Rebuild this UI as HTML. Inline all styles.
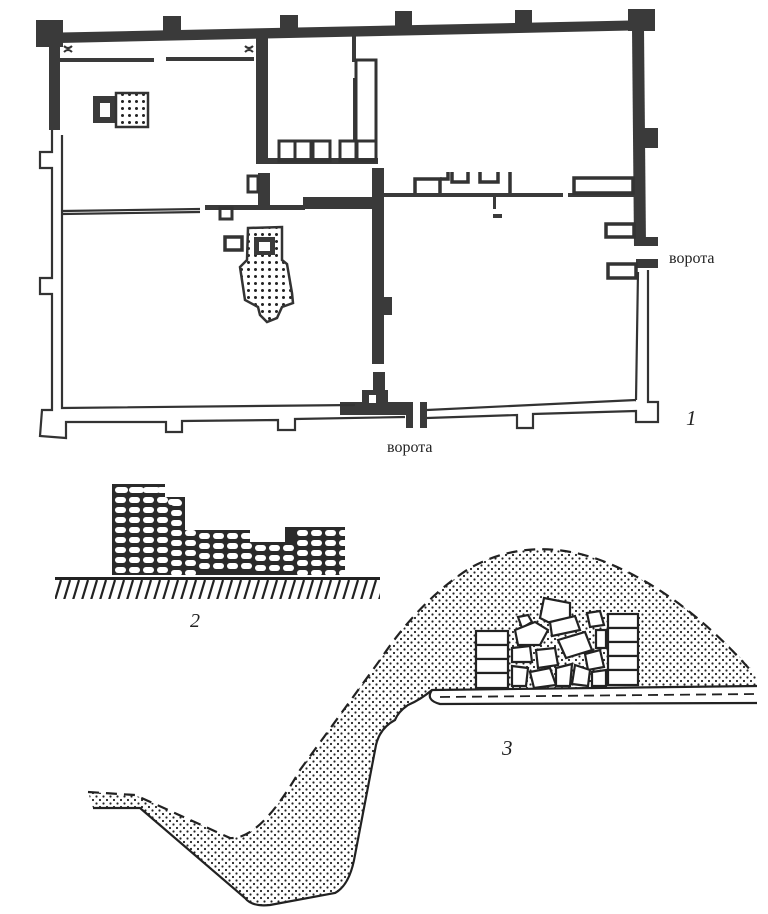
<!DOCTYPE html>
<html><head><meta charset="utf-8"><style>
html,body{margin:0;padding:0;background:#fff;}
svg{display:block;}
text{font-family:"Liberation Serif",serif;fill:#222;}
</style></head><body>
<svg width="768" height="914" viewBox="0 0 768 914" xmlns="http://www.w3.org/2000/svg">
<defs>
<pattern id="dots" width="7" height="7" patternUnits="userSpaceOnUse">
<circle cx="2" cy="2" r="1.1" fill="#222"/><circle cx="5.5" cy="5.5" r="1.1" fill="#222"/>
</pattern>
<pattern id="bigdots" width="7" height="7" patternUnits="userSpaceOnUse">
<circle cx="3.5" cy="3.5" r="1.5" fill="#222"/>
</pattern>
<pattern id="hatch" width="9" height="20" patternUnits="userSpaceOnUse">
<line x1="7" y1="0" x2="1" y2="20" stroke="#222" stroke-width="2.2"/>
</pattern>
</defs>

<!-- ===== PLAN 1 ===== -->
<g fill="#3a3a3a">
<!-- top wall -->
<polygon points="36,33 655,20 655,30 60,43"/>
<rect x="36" y="20" width="27" height="27"/>
<rect x="163" y="16" width="18" height="17"/>
<rect x="280" y="15" width="18" height="16"/>
<rect x="395" y="11" width="17" height="16"/>
<rect x="515" y="10" width="17" height="15"/>
<rect x="628" y="9" width="27" height="22"/>
<!-- left thick wall -->
<rect x="49" y="40" width="11" height="90"/>
<!-- inner dashed line -->
<rect x="60" y="58" width="94" height="4"/>
<rect x="166" y="57" width="88" height="4"/>
<!-- upper room walls -->
<rect x="256" y="38" width="12" height="126"/>
<rect x="256" y="158" width="122" height="6"/>
<rect x="352" y="32" width="4" height="30"/>
<rect x="353" y="78" width="3" height="64"/>
<!-- mid walls -->
<rect x="258" y="173" width="12" height="35"/>
<rect x="205" y="205" width="100" height="5"/>
<rect x="303" y="197" width="80" height="12"/>
<rect x="372" y="168" width="12" height="196"/>
<rect x="383" y="297" width="9" height="18"/>
<rect x="383" y="193" width="180" height="4"/>
<rect x="568" y="193" width="66" height="4"/>
<!-- right thick wall -->
<polygon points="632,28 644,28 646,246 634,246"/>
<rect x="644" y="128" width="14" height="20"/>
<rect x="634" y="237" width="24" height="9"/>
<rect x="636" y="259" width="22" height="9"/>
<!-- central bottom block -->
<rect x="373" y="372" width="12" height="30"/>
<rect x="362" y="390" width="26" height="16"/>
<rect x="340" y="402" width="73" height="13"/>
<rect x="406" y="402" width="7" height="26"/>
<rect x="420" y="402" width="7" height="26"/>
<!-- furnace 1 -->
<rect x="93" y="96" width="24" height="27"/>
<!-- small stub near z -->
<rect x="493" y="197" width="3" height="12"/>
<rect x="493" y="214" width="9" height="4"/>
</g>
<!-- white holes -->
<rect x="100" y="103" width="10" height="14" fill="#fff"/>
<rect x="369" y="395" width="7" height="8" fill="#fff"/>

<g fill="none" stroke="#333" stroke-width="2.2">
<!-- left thin wall outline -->
<polyline points="52,130 52,152 40,152 40,168 52,168 52,278 40,278 40,294 52,294 52,410 42,410 40,436 66,438 66,422 166,422 166,432 182,432 182,421 278,420 278,430 295,430 295,419 405,417"/>
<polyline points="62,135 62,408 355,405"/>
<line x1="62" y1="211" x2="200" y2="209"/>
<line x1="62" y1="214" x2="200" y2="212"/>
<!-- bottom right thin wall -->
<polyline points="427,410 636,400"/>
<polyline points="427,418 517,415 517,428 533,428 533,414 636,411 636,422 658,422 658,402 648,402 648,270"/>
<polyline points="636,400 638,272"/>
<!-- right boxes -->
<rect x="606" y="224" width="28" height="13" stroke-width="3.5"/>
<rect x="608" y="264" width="28" height="14" stroke-width="3.5"/>
<!-- upper room -->
<rect x="356" y="60" width="20" height="100" stroke-width="3"/>
<rect x="279" y="141" width="16" height="20" stroke-width="3"/>
<rect x="295" y="141" width="16" height="20" stroke-width="3"/>
<rect x="313" y="141" width="17" height="20" stroke-width="3"/>
<rect x="340" y="141" width="17" height="20" stroke-width="3"/>
<rect x="357" y="141" width="19" height="20" stroke-width="3"/>
<!-- mid small boxes -->
<rect x="248" y="176" width="10" height="16" stroke-width="3"/>
<rect x="220" y="208" width="12" height="11" stroke-width="3"/>
<!-- right mid rooms -->
<polyline points="415,193 415,179 440,179 440,193" stroke-width="3.5"/>
<polyline points="440,179 448,179 448,172" stroke-width="3.5"/>
<polyline points="452,172 452,182 468,182 468,172 M460,182 460,193" stroke-width="3.5"/>
<polyline points="480,172 480,182 498,182 498,172 M489,182 489,193" stroke-width="3.5"/>
<polyline points="510,172 510,193 M510,179 550,179 550,193" stroke-width="3.5"/>
<rect x="574" y="178" width="59" height="15" stroke-width="3.5"/>
<!-- corner decos -->
<path d="M64,46 q4,4 8,0 M64,52 q4,-4 8,0 M245,46 q4,4 8,0 M245,52 q4,-4 8,0" stroke-width="2"/>
</g>
<!-- dotted square -->
<rect x="116" y="93" width="32" height="34" fill="url(#bigdots)" stroke="#333" stroke-width="2.5"/>
<!-- dotted shape 2 -->
<rect x="225" y="237" width="17" height="13" fill="#fff" stroke="#333" stroke-width="3.5"/>
<polygon points="248,228 282,227 282,260 287,264 292,293 293,303 282,307 277,318 267,322 260,315 258,307 245,300 240,267 247,260" fill="url(#bigdots)" stroke="#333" stroke-width="2.5"/>
<rect x="254" y="237" width="21" height="18" fill="#3a3a3a"/>
<rect x="259" y="242" width="11" height="9" fill="#fff"/>

<text x="669" y="263" font-size="16">ворота</text>
<text x="387" y="452" font-size="16">ворота</text>
<text x="686" y="425" font-size="21" font-style="italic">1</text>

<!-- ===== SECTION 2 ===== -->
<polygon points="112,575 112,484 165,484 165,497 185,497 185,530 250,530 250,542 285,542 285,527 345,527 345,575" fill="#2a2a2a"/>
<g fill="#fff">
<!-- stone pattern rows -->
<rect x="116" y="487" width="12" height="6" rx="3"/><rect x="132" y="487" width="12" height="6" rx="3"/><rect x="148" y="487" width="12" height="6" rx="3"/>
<rect x="168" y="499" width="13" height="6" rx="3"/>
</g>
<g fill="#fff">
<script type="text/plain"></script>
</g>
<g id="stones2"></g>
<rect x="55" y="577" width="325" height="3" fill="#222"/>
<rect x="55" y="580" width="325" height="19" fill="url(#hatch)"/>
<text x="190" y="627" font-size="20" font-style="italic">2</text>

<!-- ===== SECTION 3 ===== -->
<path d="M88,792 L135,795 L230,838 Q260,840 300,770 L380,660 Q420,600 470,568 Q530,535 600,560 Q680,590 757,675 L757,686 L432,690 Q420,700 408,705 Q398,712 395,720 Q380,728 376,745 L355,855 Q350,885 335,893 L270,905 Q252,907 245,898 L140,808 L93,808 Z" fill="url(#dots)"/>
<path d="M88,792 L135,795 L230,838 Q260,840 300,770 L380,660 Q420,600 470,568 Q530,535 600,560 Q680,590 752,672" fill="none" stroke="#222" stroke-width="2.2" stroke-dasharray="11,7"/>
<path d="M93,808 L140,808 L245,898 Q252,907 270,905 L335,893 Q350,885 355,855 L376,745 Q380,728 395,720 Q398,712 408,705 Q420,700 432,690 L757,686" fill="none" stroke="#222" stroke-width="2.2"/>
<path d="M432,690 Q425,700 440,704 L757,703" fill="none" stroke="#222" stroke-width="2.2"/>
<line x1="440" y1="697" x2="757" y2="694" stroke="#222" stroke-width="1.8" stroke-dasharray="10,6"/>
<!-- walls in section 3 -->
<g fill="#fff" stroke="#222" stroke-width="2.2">
<rect x="476" y="631" width="32" height="14"/><rect x="476" y="645" width="32" height="14"/><rect x="476" y="659" width="32" height="14"/><rect x="476" y="673" width="32" height="15"/>
<rect x="608" y="614" width="30" height="14"/><rect x="608" y="628" width="30" height="14"/><rect x="608" y="642" width="30" height="14"/><rect x="608" y="656" width="30" height="14"/><rect x="608" y="670" width="30" height="15"/>
<polygon points="544,598 570,603 570,620 556,626 540,618"/>
<polygon points="518,617 528,615 532,622 522,628"/>
<polygon points="515,630 535,622 548,630 540,645 518,645"/>
<polygon points="550,622 575,616 580,630 552,636"/>
<polygon points="587,613 600,611 604,625 590,627"/>
<polygon points="558,640 585,632 592,650 566,658"/>
<polygon points="512,648 530,646 532,662 512,662"/>
<polygon points="536,650 555,648 558,665 538,668"/>
<polygon points="585,654 600,650 604,667 588,670"/>
<polygon points="575,665 590,670 588,686 572,684"/>
<polygon points="512,666 528,668 526,686 512,686"/>
<polygon points="530,672 550,668 556,685 534,688"/>
<polygon points="556,668 572,664 570,686 556,686"/>
<polygon points="592,672 606,670 606,686 592,686"/>
<polygon points="596,630 606,630 606,648 596,648"/>
</g>
<text x="502" y="755" font-size="21" font-style="italic">3</text>
</svg>
<script>
// draw stone pattern in section 2
(function(){
var g=document.getElementById('stones2');var ns='http://www.w3.org/2000/svg';
var cols=[[114,484],[128,484],[142,484],[152,490],[167,497],[185,530],[199,530],[213,530],[227,530],[241,530],[255,542],[269,542],[285,527],[299,527],[313,527],[327,527]];
var xs=[];for(var x=114;x<343;x+=14)xs.push(x);
xs.forEach(function(x){
var top=x<165?486:x<185?499:x<250?532:x<285?544:529;
for(var y=top;y<570;y+=10){var r=document.createElementNS(ns,'rect');
r.setAttribute('x',x+1);r.setAttribute('y',y+1);r.setAttribute('width',11);r.setAttribute('height',6);r.setAttribute('rx',3);r.setAttribute('fill','#fff');g.appendChild(r);}
});
})();
</script>
</body></html>
